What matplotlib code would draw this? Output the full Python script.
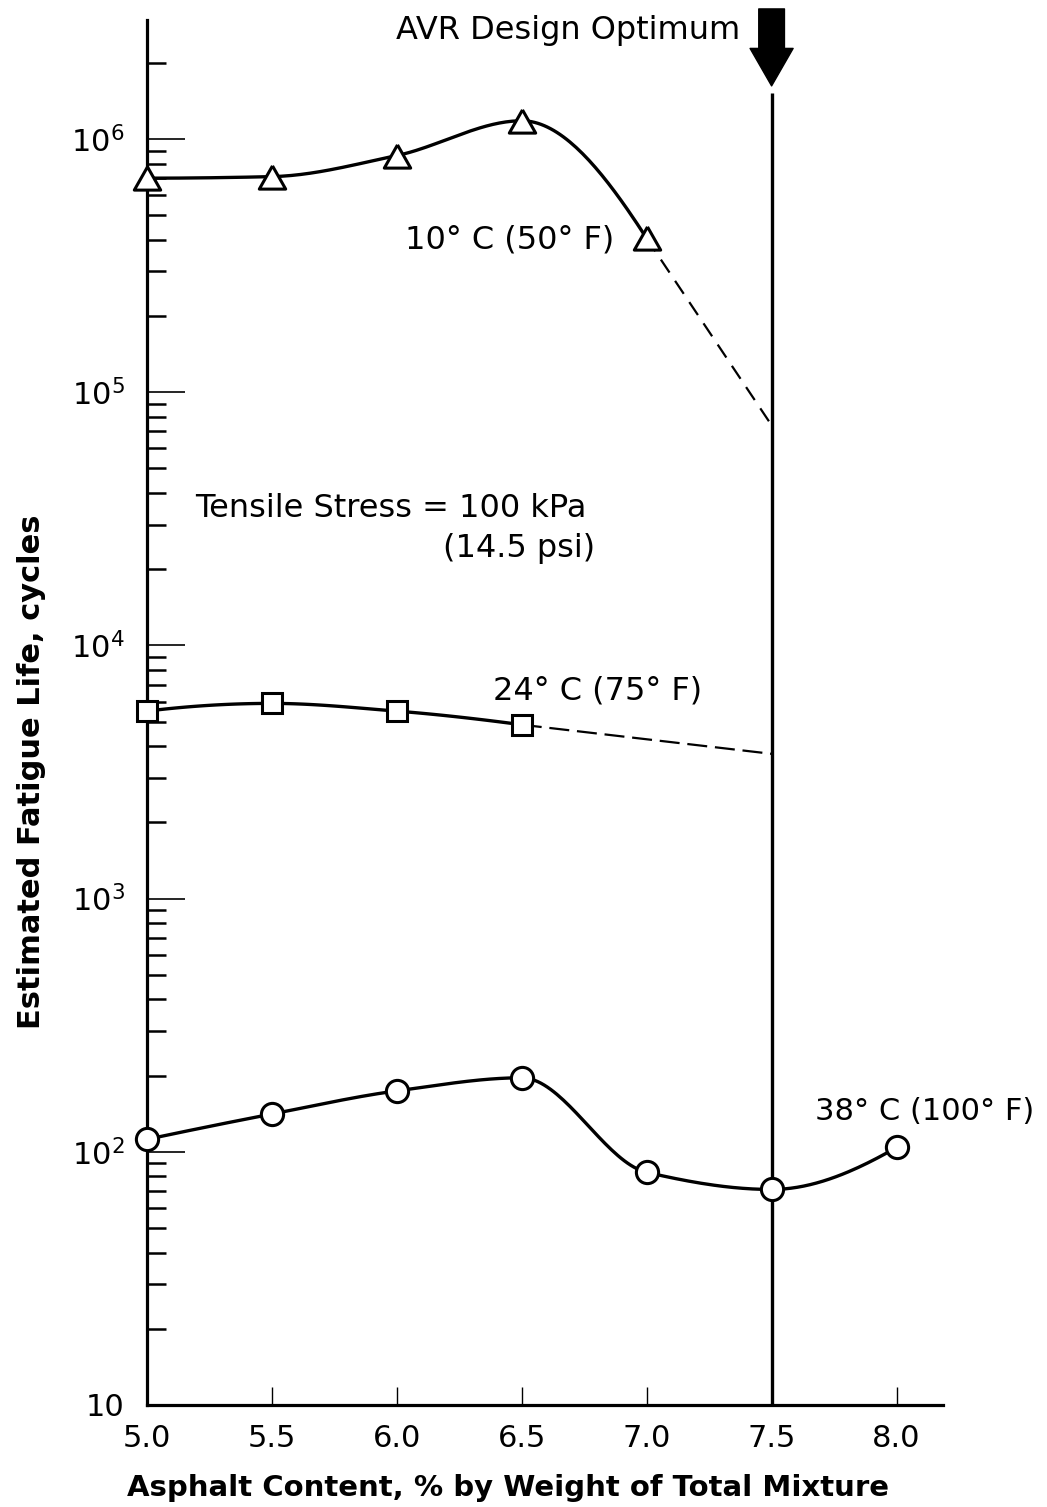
import numpy as np
import matplotlib
matplotlib.use("Agg")
import matplotlib.pyplot as plt
from matplotlib.ticker import LogLocator, FixedLocator, NullFormatter

# asphalt content (% by weight of total mixture)
content_10c = [5.0, 5.5, 6.0, 6.5, 7.0]
life_10c = [7.0e5, 7.1e5, 8.6e5, 1.18e6, 4.05e5]
dash_10c_x = [7.0, 7.5]
dash_10c_y = [4.05e5, 7.4e4]

content_24c = [5.0, 5.5, 6.0, 6.5]
life_24c = [5.5e3, 5.9e3, 5.5e3, 4.86e3]
dash_24c_x = [6.5, 7.5]
dash_24c_y = [4.86e3, 3.73e3]

content_38c = [5.0, 5.5, 6.0, 6.5, 7.0, 7.5, 8.0]
life_38c = [112, 141, 174, 196, 83, 71, 104]

x_ticks = [5.0, 5.5, 6.0, 6.5, 7.0, 7.5, 8.0]
x_tick_labels = ["5.0", "5.5", "6.0", "6.5", "7.0", "7.5", "8.0"]
y_ticks = [10, 1e2, 1e3, 1e4, 1e5, 1e6]
y_tick_labels = ["10", r"$\mathregular{10^2}$", r"$\mathregular{10^3}$",
                 r"$\mathregular{10^4}$", r"$\mathregular{10^5}$", r"$\mathregular{10^6}$"]

optimum = 7.5
optimum_top = 1.52e6


def smoothCurve(xs, ys, steps=40):
    # monotone cubic (Fritsch-Carlson) through the points, in log space
    x = np.asarray(xs, float)
    y = np.log10(ys)
    h = np.diff(x)
    d = np.diff(y) / h
    n = len(x)
    m = np.zeros(n)
    for k in range(1, n - 1):
        if d[k - 1] * d[k] > 0:
            w1 = 2 * h[k] + h[k - 1]
            w2 = h[k] + 2 * h[k - 1]
            m[k] = (w1 + w2) / (w1 / d[k - 1] + w2 / d[k])
    for i, (h0, h1, d0, d1) in [(0, (h[0], h[1], d[0], d[1])),
                                (n - 1, (h[-1], h[-2], d[-1], d[-2]))]:
        e = ((2 * h0 + h1) * d0 - h0 * d1) / (h0 + h1)
        if np.sign(e) != np.sign(d0):
            e = 0.0
        elif np.sign(d0) != np.sign(d1) and abs(e) > 3 * abs(d0):
            e = 3 * d0
        m[i] = e
    cx, cy = [], []
    for k in range(n - 1):
        t = np.linspace(0, 1, steps)
        h00 = 2 * t ** 3 - 3 * t ** 2 + 1
        h10 = t ** 3 - 2 * t ** 2 + t
        h01 = -2 * t ** 3 + 3 * t ** 2
        h11 = t ** 3 - t ** 2
        seg = h00 * y[k] + h10 * h[k] * m[k] + h01 * y[k + 1] + h11 * h[k] * m[k + 1]
        cx.append(x[k] + t * h[k])
        cy.append(seg)
    return np.concatenate(cx), 10 ** np.concatenate(cy)


plt.rcParams["font.family"] = "DejaVu Sans"
fig = plt.figure(figsize=(10.47, 15.07), dpi=100)
ax = fig.add_axes([147 / 1047, 1 - 1405 / 1507, (943 - 147) / 1047, (1405 - 20) / 1507])
ax.set_yscale("log")
ax.set_xlim(5.0, 8.186)
ax.set_ylim(10, 2.95e6)

for side in ["top", "right"]:
    ax.spines[side].set_visible(False)
for side in ["left", "bottom"]:
    ax.spines[side].set_linewidth(2.3)

triangle = [(0, 0.88), (-1, -0.88), (1, -0.88), (0, 0.88)]

# smooth curves through the measured points
for xs, ys, marker, ms in [(content_10c, life_10c, triangle, 19),
                           (content_24c, life_24c, "s", 15),
                           (content_38c, life_38c, "o", 16)]:
    cx, cy = smoothCurve(xs, ys)
    ax.plot(cx, cy, color="black", lw=2.4, zorder=3, solid_capstyle="round")
    ax.plot(xs, ys, linestyle="none", marker=marker, ms=ms, mfc="white",
            mec="black", mew=2.2, zorder=6, clip_on=False)

# extrapolated parts
ax.plot(dash_10c_x, dash_10c_y, color="black", lw=1.6, dashes=(7, 4.5), zorder=3)
ax.plot(dash_24c_x, dash_24c_y, color="black", lw=1.6, dashes=(9, 3.5), zorder=3)

# design optimum line and arrow
ax.vlines(optimum, 10, optimum_top, color="black", lw=2.4, zorder=4)
ax.annotate("", xy=(optimum, 1.62e6), xycoords="data",
            xytext=(optimum, 1.008), textcoords=("data", "axes fraction"),
            arrowprops=dict(arrowstyle="simple,head_length=27,head_width=31,tail_width=18.5",
                            mutation_scale=1, fc="black", ec="black", shrinkA=0, shrinkB=0),
            annotation_clip=False)
ax.text(7.374, 2.68e6, "AVR Design Optimum", fontsize=23, ha="right", va="center")

ax.text(6.033, 4.0e5, "10° C (50° F)", fontsize=23, ha="left", va="center")
ax.text(6.385, 6.6e3, "24° C (75° F)", fontsize=23, ha="left", va="center")
ax.text(7.674, 144, "38° C (100° F)", fontsize=22, ha="left", va="center")
ax.text(5.192, 3.47e4, "Tensile Stress = 100 kPa", fontsize=23, ha="left", va="center")
ax.text(6.185, 2.41e4, "(14.5 psi)", fontsize=23, ha="left", va="center")

ax.set_xticks(x_ticks)
ax.set_xticklabels(x_tick_labels, fontsize=22)
ax.tick_params(axis="x", direction="in", length=13, width=1.0, pad=14)

ax.yaxis.set_major_locator(FixedLocator(y_ticks))
ax.set_yticklabels(y_tick_labels, fontsize=22)
ax.yaxis.set_minor_locator(LogLocator(base=10, subs=range(2, 10)))
ax.yaxis.set_minor_formatter(NullFormatter())
ax.tick_params(axis="y", which="major", direction="in", length=27, width=1.2, pad=16)
ax.tick_params(axis="y", which="minor", direction="in", length=14, width=1.8)

fig.text(508 / 1047, 1 - 1488 / 1507, "Asphalt Content, % by Weight of Total Mixture",
         fontsize=21, fontweight="bold", ha="center", va="center")
fig.text(32 / 1047, 1 - 772 / 1507, "Estimated Fatigue Life, cycles", fontsize=22,
         fontweight="bold", rotation=90, ha="center", va="center")

fig.savefig("out.png", dpi=100)
